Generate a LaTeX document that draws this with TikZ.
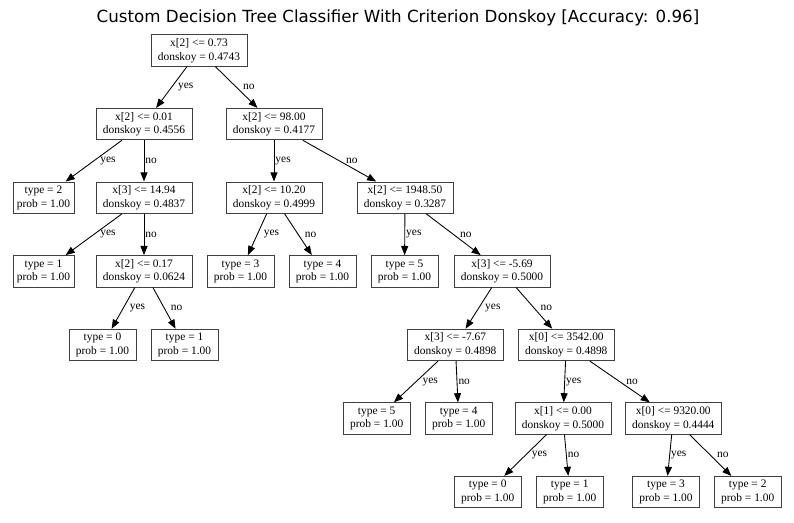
\documentclass[tikz,border=0pt]{standalone}
\usepackage{fontspec}
\setmainfont{Liberation Serif}
\newfontfamily\titlefont{DejaVu Sans}
\usepackage{tikz}
\usetikzlibrary{arrows.meta}

\begin{document}
\begin{tikzpicture}[x=0.02cm, y=-0.02cm,
  every node/.style={font=\fontsize{6.5}{7.7}\selectfont},
  split/.style={draw=black!75,line width=0.5pt,minimum width=1.92cm,minimum height=0.63cm,
                inner sep=0pt,align=center},
  leaf/.style={split,minimum width=1.34cm},
  ar/.style={-{Triangle[length=5.2pt,width=4pt]},draw=black,line width=0.5pt},
  lbl/.style={midway,anchor=west,inner sep=0pt,xshift=3.5pt},
  lblv/.style={midway,anchor=west,inner sep=0pt,xshift=0.6pt}]
\useasboundingbox (0,0) rectangle (794,522);
\node[font=\titlefont\fontsize{9.5}{11}\selectfont] (title) at (398,18)
  {Custom Decision Tree Classifier With Criterion Donskoy [Accuracy: 0.96]};
\node[split] (root) at (199,50.5) {x[2] <= 0.73\\donskoy = 0.4743};
\node[split] (a) at (144,124.1) {x[2] <= 0.01\\donskoy = 0.4556};
\node[split] (b) at (274,124.1) {x[2] <= 98.00\\donskoy = 0.4177};
\node[leaf,minimum width=1.22cm] (c) at (43.5,197.7) {type = 2\\prob = 1.00};
\node[split] (d) at (144,197.7) {x[3] <= 14.94\\donskoy = 0.4837};
\node[split] (e) at (274,197.7) {x[2] <= 10.20\\donskoy = 0.4999};
\node[split] (f) at (405,197.7) {x[2] <= 1948.50\\donskoy = 0.3287};
\node[leaf,minimum width=1.22cm] (g) at (43.5,271.3) {type = 1\\prob = 1.00};
\node[split] (h) at (144,271.3) {x[2] <= 0.17\\donskoy = 0.0624};
\node[leaf] (i) at (240.5,271.3) {type = 3\\prob = 1.00};
\node[leaf] (j) at (322.5,271.3) {type = 4\\prob = 1.00};
\node[leaf] (k) at (404.5,271.3) {type = 5\\prob = 1.00};
\node[split] (l) at (502,271.3) {x[3] <= -5.69\\donskoy = 0.5000};
\node[leaf] (m) at (102.5,344.9) {type = 0\\prob = 1.00};
\node[leaf] (n) at (184.5,344.9) {type = 1\\prob = 1.00};
\node[split] (o) at (455.3,344.9) {x[3] <= -7.67\\donskoy = 0.4898};
\node[split] (p) at (566.3,344.9) {x[0] <= 3542.00\\donskoy = 0.4898};
\node[leaf] (q) at (376.7,418.5) {type = 5\\prob = 1.00};
\node[leaf] (r) at (458.7,418.5) {type = 4\\prob = 1.00};
\node[split] (s) at (563,418.5) {x[1] <= 0.00\\donskoy = 0.5000};
\node[split] (t) at (673.3,418.5) {x[0] <= 9320.00\\donskoy = 0.4444};
\node[leaf] (u) at (487.7,492.1) {type = 0\\prob = 1.00};
\node[leaf] (v) at (569.7,492.1) {type = 1\\prob = 1.00};
\node[leaf] (w) at (666,492.1) {type = 3\\prob = 1.00};
\node[leaf] (x) at (747.7,492.1) {type = 2\\prob = 1.00};
\draw[ar] (root)--(a) node[lbl] {yes}; \draw[ar] (root)--(b) node[lbl] {no};
\draw[ar] (a)--(c) node[lbl] {yes}; \draw[ar] (a)--(d) node[lblv] {no};
\draw[ar] (b)--(e) node[lblv] {yes}; \draw[ar] (b)--(f) node[lbl] {no};
\draw[ar] (d)--(g) node[lbl] {yes}; \draw[ar] (d)--(h) node[lblv] {no};
\draw[ar] (e)--(i) node[lbl] {yes}; \draw[ar] (e)--(j) node[lbl] {no};
\draw[ar] (f)--(k) node[lblv] {yes}; \draw[ar] (f)--(l) node[lbl] {no};
\draw[ar] (h)--(m) node[lbl] {yes}; \draw[ar] (h)--(n) node[lbl] {no};
\draw[ar] (l)--(o) node[lbl] {yes}; \draw[ar] (l)--(p) node[lbl] {no};
\draw[ar] (o)--(q) node[lbl] {yes}; \draw[ar] (o)--(r) node[lblv] {no};
\draw[ar] (p)--(s) node[lblv] {yes}; \draw[ar] (p)--(t) node[lbl] {no};
\draw[ar] (s)--(u) node[lbl] {yes}; \draw[ar] (s)--(v) node[lblv] {no};
\draw[ar] (t)--(w) node[lblv] {yes}; \draw[ar] (t)--(x) node[lbl] {no};
\end{tikzpicture}
\end{document}
